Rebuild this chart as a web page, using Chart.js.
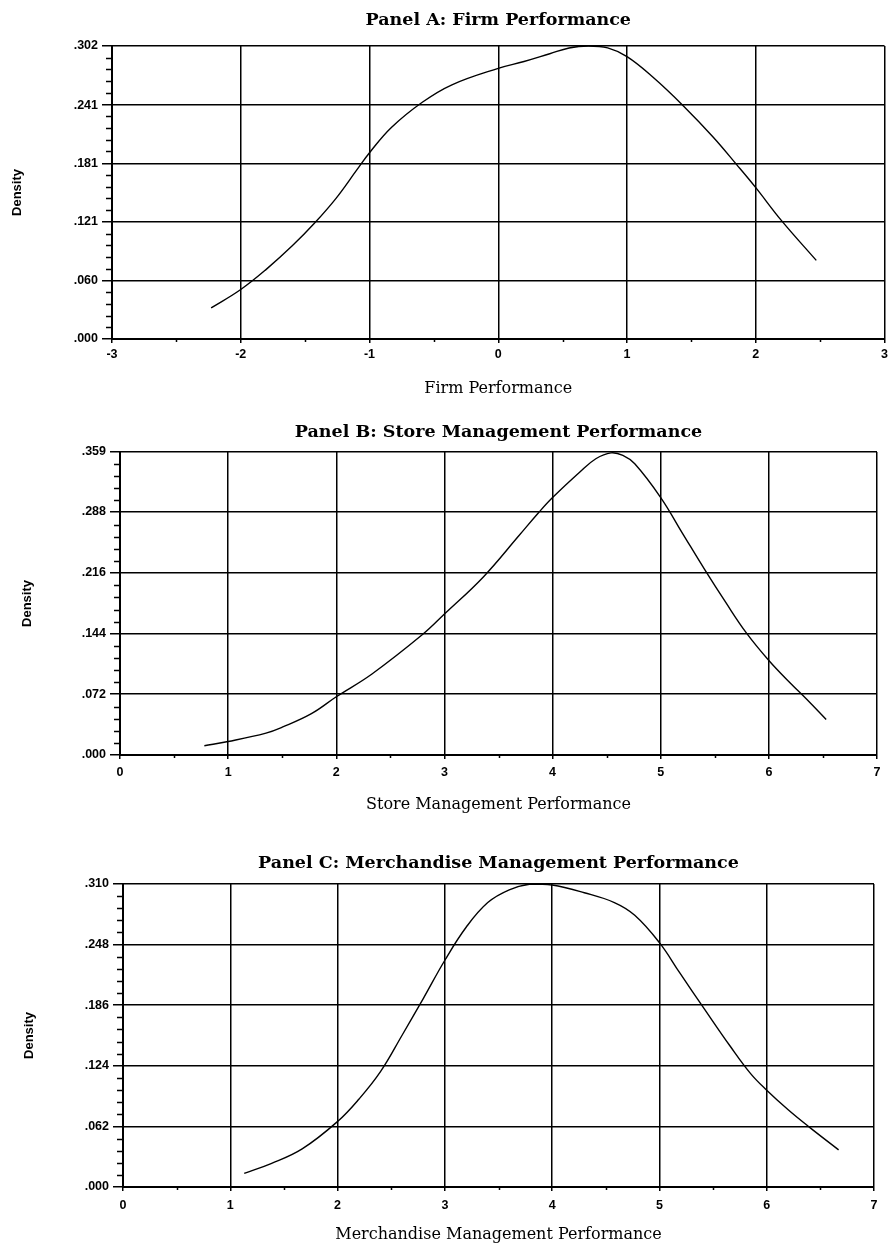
<!DOCTYPE html>
<html>
<head>
<meta charset="utf-8">
<script src="https://cdn.jsdelivr.net/npm/chart.js@4.4.1/dist/chart.umd.min.js"></script>
<style>
  body { margin: 0; background: #fff; width: 892px; height: 1246px; position: relative; overflow: hidden; }
  canvas { position: absolute; left: 0; }
</style>
</head>
<body>
<canvas id="panelA" width="892" height="420" style="top:0px"></canvas>
<canvas id="panelB" width="892" height="430" style="top:420px"></canvas>
<canvas id="panelC" width="892" height="396" style="top:850px"></canvas>
<script>
// Panel A: Firm Performance
const firmX = [-2.23, -2.0, -1.8, -1.6, -1.43, -1.26, -1.1, -1.0, -0.83, -0.59, -0.36, 0, 0.2, 0.4, 0.55, 0.7, 0.85, 1.0, 1.2, 1.44, 1.67, 1.85, 2.0, 2.2, 2.47];
const firmDensity = [0.032, 0.051, 0.072, 0.096, 0.119, 0.145, 0.174, 0.192, 0.218, 0.244, 0.262, 0.279, 0.286, 0.294, 0.300, 0.302, 0.300, 0.291, 0.270, 0.240, 0.208, 0.180, 0.156, 0.122, 0.081];
const firmXTicks = ['-3', '-2', '-1', '0', '1', '2', '3'];
const firmYTicks = ['.000', '.060', '.121', '.181', '.241', '.302'];

// Panel B: Store Management Performance
const storeX = [0.78, 1.0, 1.35, 1.5, 1.77, 2.0, 2.33, 2.80, 3.0, 3.36, 3.69, 3.87, 4.0, 4.25, 4.4, 4.54, 4.65, 4.76, 5.0, 5.2, 5.41, 5.6, 5.79, 6.0, 6.2, 6.35, 6.53];
const storeDensity = [0.011, 0.016, 0.026, 0.033, 0.049, 0.069, 0.096, 0.143, 0.167, 0.211, 0.260, 0.287, 0.305, 0.335, 0.351, 0.358, 0.355, 0.345, 0.305, 0.263, 0.219, 0.181, 0.145, 0.112, 0.085, 0.066, 0.042];
const storeXTicks = ['0', '1', '2', '3', '4', '5', '6', '7'];
const storeYTicks = ['.000', '.072', '.144', '.216', '.288', '.359'];

// Panel C: Merchandise Management Performance
const merchX = [1.13, 1.38, 1.67, 2.0, 2.2, 2.4, 2.6, 2.8, 3.0, 3.2, 3.4, 3.6, 3.8, 4.0, 4.3, 4.58, 4.77, 5.0, 5.19, 5.42, 5.66, 5.85, 6.0, 6.2, 6.4, 6.67];
const merchDensity = [0.014, 0.024, 0.039, 0.067, 0.090, 0.118, 0.155, 0.193, 0.232, 0.266, 0.291, 0.304, 0.310, 0.309, 0.301, 0.291, 0.278, 0.250, 0.219, 0.182, 0.144, 0.116, 0.099, 0.079, 0.061, 0.038];
const merchXTicks = ['0', '1', '2', '3', '4', '5', '6', '7'];
const merchYTicks = ['.000', '.062', '.124', '.186', '.248', '.310'];

const tickFont = { family: '"Liberation Sans", Arial, sans-serif', size: 12.5, weight: 'bold' };

// small minor tick marks on both axes
const minorTicks = {
  id: 'minorTicks',
  afterDraw(chart) {
    const { ctx, chartArea, scales: { x, y } } = chart;
    ctx.save();
    ctx.strokeStyle = '#000';
    ctx.lineWidth = 1.5;
    ctx.beginPath();
    for (let k = 1; k < 25; k++) {
      if (k % 5 === 0) continue;
      const py = Math.round(y.getPixelForValue(y.max * k / 25)) + 0.5;
      ctx.moveTo(chartArea.left - 6, py);
      ctx.lineTo(chartArea.left, py);
    }
    for (let v = x.min + 0.5; v < x.max; v += 1) {
      const px = Math.round(x.getPixelForValue(v)) + 0.5;
      ctx.moveTo(px, chartArea.bottom);
      ctx.lineTo(px, chartArea.bottom + 3);
    }
    ctx.stroke();
    ctx.restore();
  }
};

function makePanel(id, xs, ys, xTicks, yTicks, title, xTitle, box) {
  const points = xs.map((v, i) => ({ x: v, y: ys[i] }));
  new Chart(document.getElementById(id), {
    type: 'line',
    data: {
      datasets: [{
        data: points,
        borderColor: '#000',
        borderWidth: 1.4,
        pointRadius: 0,
        tension: 0.4,
        fill: false
      }]
    },
    options: {
      responsive: false,
      animation: false,
      devicePixelRatio: 1,
      layout: { padding: { left: 0, right: box.right, top: 0, bottom: 0 } },
      plugins: {
        legend: { display: false },
        tooltip: { enabled: false },
        title: {
          display: true,
          text: title,
          fullSize: false,
          color: '#000',
          font: { family: '"DejaVu Serif", serif', size: 17.5, weight: 'bold' },
          padding: { top: box.titleTop, bottom: box.titleBottom }
        }
      },
      scales: {
        x: {
          type: 'linear',
          min: parseFloat(xTicks[0]),
          max: parseFloat(xTicks[xTicks.length - 1]),
          afterBuildTicks: s => { s.ticks = xTicks.map(t => ({ value: parseFloat(t) })); },
          afterFit: s => { s.height = box.xHeight; },
          ticks: {
            color: '#000',
            font: tickFont,
            padding: box.xTickPad,
            maxRotation: 0,
            callback: (v, i) => xTicks[i]
          },
          grid: { color: '#000', lineWidth: 1.5, tickLength: 4, tickWidth: 1.5, tickColor: '#000' },
          border: { color: '#000', width: 2 },
          title: {
            display: true,
            text: xTitle,
            color: '#000',
            font: { family: '"DejaVu Serif", serif', size: 16 },
            padding: { top: 0, bottom: box.xTitleBottom }
          }
        },
        y: {
          min: 0,
          max: parseFloat(yTicks[yTicks.length - 1]),
          afterBuildTicks: s => { s.ticks = yTicks.map(t => ({ value: parseFloat(t) })); },
          afterFit: s => { s.width = box.yWidth; },
          ticks: {
            color: '#000',
            font: tickFont,
            padding: 4,
            callback: (v, i) => yTicks[i]
          },
          grid: { color: '#000', lineWidth: 1.5, tickLength: 10, tickWidth: 1.5, tickColor: '#000' },
          border: { color: '#000', width: 2 },
          title: {
            display: true,
            text: 'Density',
            color: '#000',
            font: { family: '"Liberation Sans", Arial, sans-serif', size: 13, weight: 'bold' },
            padding: { top: box.yTitleTop, bottom: 0 }
          }
        }
      }
    },
    plugins: [minorTicks]
  });
}

makePanel('panelA', firmX, firmDensity, firmXTicks, firmYTicks,
  'Panel A: Firm Performance', 'Firm Performance',
  { right: 4, titleTop: 10, titleBottom: 15, xHeight: 81, xTickPad: 4, xTitleBottom: 22, yWidth: 112, yTitleTop: 10 });

makePanel('panelB', storeX, storeDensity, storeXTicks, storeYTicks,
  'Panel B: Store Management Performance', 'Store Management Performance',
  { right: 15, titleTop: 2, titleBottom: 9, xHeight: 95, xTickPad: 6, xTitleBottom: 36, yWidth: 120, yTitleTop: 20 });

makePanel('panelC', merchX, merchDensity, merchXTicks, merchYTicks,
  'Panel C: Merchandise Management Performance', 'Merchandise Management Performance',
  { right: 18, titleTop: 3, titleBottom: 10, xHeight: 59, xTickPad: 7, xTitleBottom: 2, yWidth: 123, yTitleTop: 22 });
</script>
</body>
</html>
